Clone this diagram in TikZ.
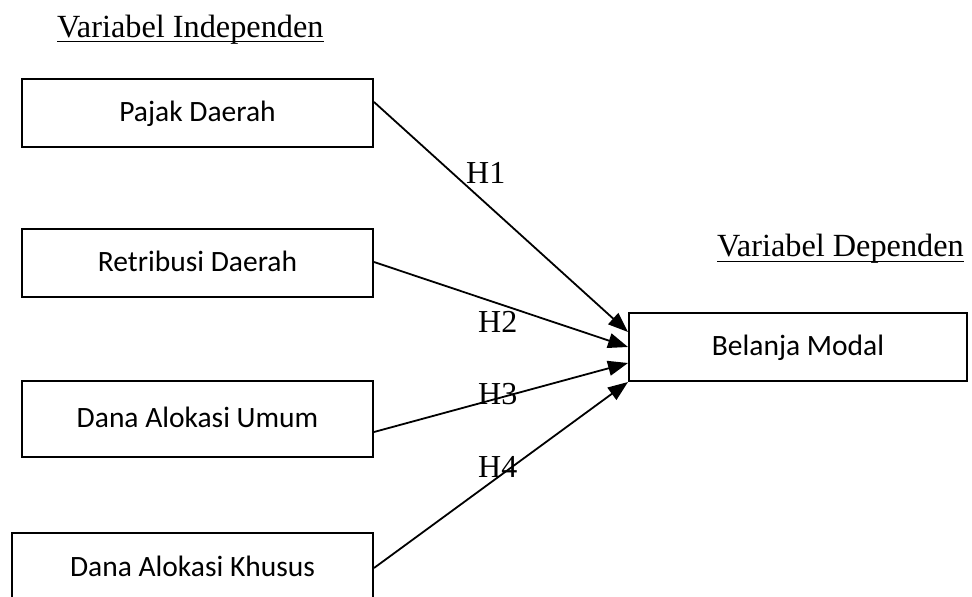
\documentclass[tikz,border=0pt]{standalone}
\usepackage{fontspec}
\setmainfont{Liberation Serif}
\newfontfamily\calibri{Carlito}
\usetikzlibrary{arrows.meta}
\begin{document}
\begin{tikzpicture}[x=1pt,y=-1pt,
  varbox/.style={draw, line width=2pt, rectangle, inner sep=0pt,
    text height=20pt, text depth=3.6pt,
    font=\calibri\fontsize{29.5}{35}\selectfont},
  heading/.style={anchor=base west, inner sep=0pt, font=\fontsize{32.3}{38}\selectfont},
  hlabel/.style={anchor=base west, inner sep=0pt, font=\fontsize{32}{38}\selectfont},
  uline/.style={line width=1.5pt},
  link/.style={line width=1.8pt, -{Triangle[length=20pt,width=15pt]}}]
\useasboundingbox (0,0) rectangle (972,597);
\fill[white] (0,0) rectangle (972,597);

\node[heading] (vi) at (57,37) {Variabel Independen};
\draw[uline] ([yshift=-4.5pt]vi.base west) -- ([yshift=-4.5pt]vi.base east);
\node[heading] (vd) at (717,256) {Variabel Dependen};
\draw[uline] ([yshift=-5.5pt]vd.base west) -- ([yshift=-5.5pt]vd.base east);

\node[varbox, minimum width=351pt, minimum height=68pt] (pd) at (197.5,113) {Pajak Daerah};
\node[varbox, minimum width=351pt, minimum height=68pt] (rd) at (197.5,263) {Retribusi Daerah};
\node[varbox, minimum width=351pt, minimum height=76pt] (dau) at (197.5,419) {Dana Alokasi Umum};
\node[varbox, minimum width=361pt, minimum height=70pt] (dak) at (192.5,568) {Dana Alokasi Khusus};
\node[varbox, minimum width=338pt, minimum height=68pt] (bm) at (798,347) {Belanja Modal};

\draw[link] ([yshift=11pt]pd.east) -- ([yshift=15pt]bm.west);
\draw[link] ([yshift=1pt]rd.east) -- (bm.west);
\draw[link] ([yshift=-13pt]dau.east) -- ([yshift=-16pt]bm.west);
\draw[link] (dak.east) -- (bm.south west);

\node[hlabel] (h1) at (466,183.5) {H1};
\node[hlabel] (h2) at (478,332) {H2};
\node[hlabel] (h3) at (478,404) {H3};
\node[hlabel] (h4) at (478,477) {H4};
\end{tikzpicture}
\end{document}
